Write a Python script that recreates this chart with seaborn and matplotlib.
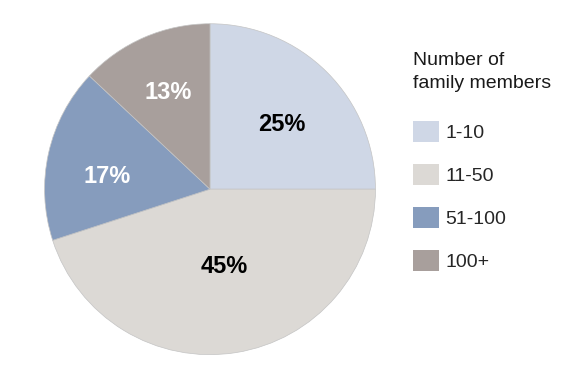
import matplotlib
matplotlib.use("Agg")
import matplotlib.pyplot as plt
import seaborn as sns

categories = ["1-10", "11-50", "51-100", "100+"]
shares = [25, 45, 17, 13]
colors = ["#cfd7e6", "#dcd9d5", "#869cbd", "#a89f9c"]
pct_colors = ["black", "black", "white", "white"]
# where each percentage label sits, in units of the pie radius
label_xy = [(0.434, 0.392), (0.084, -0.470), (-0.620, 0.078), (-0.253, 0.584)]

sns.set_theme(style="white")
plt.rcParams['font.family'] = ['Liberation Sans Narrow', 'Liberation Sans', 'DejaVu Sans']

fig = plt.figure(figsize=(5.65, 3.75), dpi=100)
ax = fig.add_axes([0.0779, 0.053, 0.5876, 0.885])

wedges, _ = ax.pie(shares, colors=colors, startangle=90, counterclock=False,
                   wedgeprops=dict(edgecolor="#c4c4c4", linewidth=0.5))
ax.set_xlim(-1.003, 1.003)
ax.set_ylim(-1.003, 1.003)
ax.set_aspect("equal")

for (x, y), val, c in zip(label_xy, shares, pct_colors):
    ax.text(x, y, f"{val}%", ha="center", va="center",
            fontsize=17, fontweight="bold", color=c)

fig.text(0.731, 0.862, "Number of\nfamily members", ha="left", va="top",
         fontsize=14, linespacing=1.5, color="#1a1a1a")

leg = fig.legend(wedges, categories, loc="upper left", bbox_to_anchor=(0.718, 0.698),
                 frameon=False, fontsize=14, handlelength=1.3, handleheight=1.3,
                 labelspacing=1.12, handletextpad=0.35, borderaxespad=0)
for h in leg.legend_handles:
    h.set_edgecolor("none")

fig.savefig("out.png", dpi=100)
